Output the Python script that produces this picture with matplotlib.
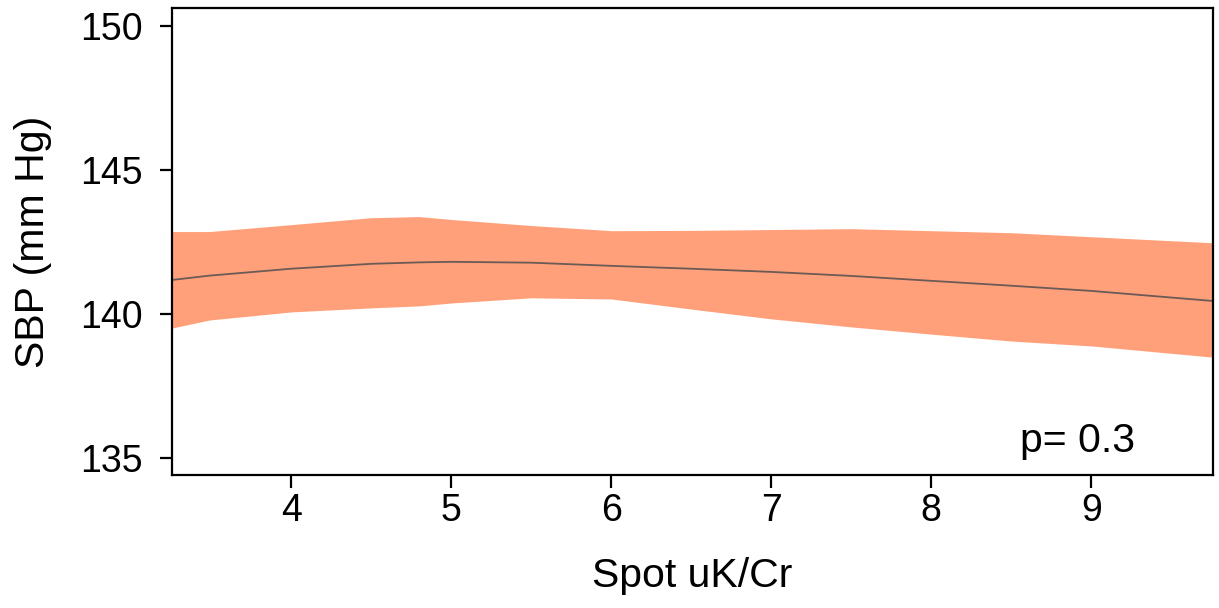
import matplotlib
matplotlib.use("Agg")
import matplotlib.pyplot as plt
import numpy as np

plt.rcParams['font.family'] = ['Liberation Sans', 'DejaVu Sans']

x_vals = [3.256, 3.49, 4.0, 4.5, 4.8, 5.0, 5.5, 6.0, 6.5, 7.0, 7.5, 8.0, 8.5, 9.0, 9.76]
fit = [141.18, 141.33, 141.57, 141.74, 141.79, 141.81, 141.78, 141.67, 141.57, 141.46, 141.32, 141.15, 140.98, 140.80, 140.45]
upper = [142.86, 142.86, 143.10, 143.34, 143.38, 143.28, 143.07, 142.89, 142.90, 142.93, 142.96, 142.89, 142.82, 142.68, 142.47]
lower = [139.51, 139.79, 140.07, 140.21, 140.28, 140.38, 140.56, 140.52, 140.17, 139.83, 139.55, 139.30, 139.06, 138.89, 138.50]

xticks = [4, 5, 6, 7, 8, 9]
yticks = [135, 140, 145, 150]

fig = plt.figure(figsize=(12.19, 6.08), dpi=100)
ax = fig.add_axes([172/1219, 1 - 475/608, (1213-172)/1219, (475-8)/608])
ax.fill_between(x_vals, lower, upper, color='#FFA07A', linewidth=0)
ax.plot(x_vals, fit, color='#6b5a55', linewidth=1.3)

ax.set_xlim(3.256, 9.76)
ax.set_ylim(134.41, 150.62)
ax.set_xticks(xticks)
ax.set_yticks(yticks)
ax.tick_params(labelsize=27, length=9, width=1.6, direction='out')
ax.tick_params(axis='x', pad=4)
ax.tick_params(axis='y', pad=12)
for s in ax.spines.values():
    s.set_linewidth(1.6)
ax.set_xlabel('Spot uK/Cr', fontsize=29.5, labelpad=20)
ax.set_ylabel('SBP (mm Hg)', fontsize=29.5, labelpad=20)
ax.text(0.925, 0.049, 'p= 0.3', transform=ax.transAxes, ha='right', va='baseline', fontsize=29.5)

fig.savefig('out.png', dpi=100)
